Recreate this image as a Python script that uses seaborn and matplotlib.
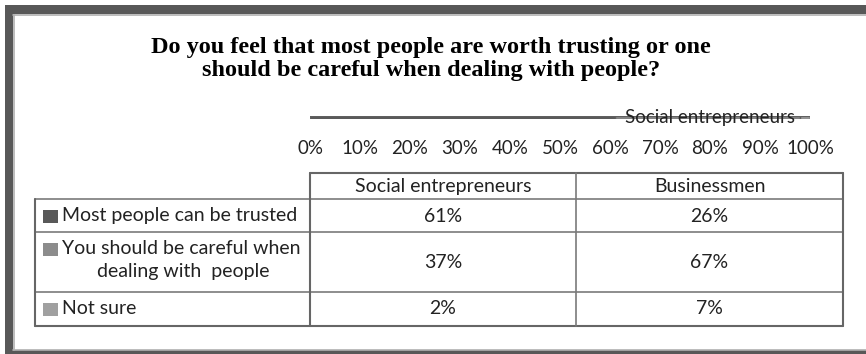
import matplotlib
matplotlib.use("Agg")
import matplotlib.pyplot as plt
from matplotlib.patches import Rectangle
from matplotlib.lines import Line2D
import pandas as pd
import seaborn as sns

# Survey answers and shares per group
answers = ["Most people can be trusted",
           "You should be careful when dealing with  people",
           "Not sure"]
groups = ["Social entrepreneurs", "Businessmen"]
social_entrepreneurs = [61, 37, 2]
businessmen = [26, 67, 7]
ticks = [0, 10, 20, 30, 40, 50, 60, 70, 80, 90, 100]
tick_labels = [f"{t}%" for t in ticks]
title = ("Do you feel that most people are worth trusting or one\n"
         "should be careful when dealing with people?")

colors = ["#595959", "#8c8c8c", "#a0a0a0"]

W, H = 866, 354
sns.set_theme(style="white")
plt.rcParams["font.family"] = ["Lato", "DejaVu Sans"]

fig = plt.figure(figsize=(W / 100, H / 100), dpi=100)
fig.patch.set_facecolor("white")


def fx(px):
    return px / W


def fy(py):
    return 1 - py / H


# Outer chart frame (dark band with light inner line)
frame_dark = "#585858"
frame_light = "#b0b0b0"
fig.add_artist(Rectangle((fx(5), fy(14)), fx(W), 9 / H, transform=fig.transFigure,
                         facecolor=frame_dark, edgecolor="none"))
fig.add_artist(Rectangle((fx(5), fy(354)), 8 / W, 349 / H, transform=fig.transFigure,
                         facecolor=frame_dark, edgecolor="none"))
fig.add_artist(Rectangle((fx(5), fy(354)), fx(W), 4 / H, transform=fig.transFigure,
                         facecolor=frame_dark, edgecolor="none"))
fig.add_artist(Line2D([fx(13), fx(W)], [fy(14.5), fy(14.5)], transform=fig.transFigure,
                      color=frame_light, lw=1.2))
fig.add_artist(Line2D([fx(13.5), fx(13.5)], [fy(14.5), fy(349.5)], transform=fig.transFigure,
                      color=frame_light, lw=1.2))
fig.add_artist(Line2D([fx(13), fx(W)], [fy(349.5), fy(349.5)], transform=fig.transFigure,
                      color=frame_light, lw=1.2))

# Title
fig.text(fx(431), fy(59), title, ha="center", va="center", fontsize=17.5,
         fontweight="bold", family=["Liberation Serif"], linespacing=1.1,
         color="black")

# Squashed stacked bar plot area
ax = fig.add_axes([fx(310), fy(119), fx(500), 3 / H])
df = pd.DataFrame({"group": [groups[0]] * 3, "answer": answers,
                   "value": social_entrepreneurs})
cum = df["value"].cumsum()
for i in reversed(range(len(answers))):
    sns.barplot(x=[cum.iloc[i]], y=[groups[0]], ax=ax, color=colors[i],
                orient="h", width=1.0, saturation=1, edgecolor="#606060",
                linewidth=1.0)
ax.set_xlim(0, 100)
ax.set_ylim(0.5, -0.5)
ax.set_xticks(ticks)
ax.set_xticklabels(tick_labels)
ax.tick_params(axis="x", length=0, pad=15, labelsize=13.5, labelcolor="#222222")
ax.set_yticks([])
ax.set_xlabel("")
ax.set_ylabel("")
for s in ax.spines.values():
    s.set_visible(False)
ax.text(0.8, 0.5, groups[0], transform=ax.transAxes, ha="center", va="center",
        fontsize=13.5, color="#222222")

# Data table
x_left, x_lab, x_mid, x_right = 35, 310, 576, 843
y_head, y_r1, y_r2, y_r3, y_bot = 173, 199, 232, 292, 326
grid = "#7a7a7a"
edge = "#666666"


def hline(y, x0, x1, c=grid, lw=1.2):
    fig.add_artist(Line2D([fx(x0), fx(x1)], [fy(y), fy(y)],
                          transform=fig.transFigure, color=c, lw=lw))


def vline(x, y0, y1, c=grid, lw=1.2):
    fig.add_artist(Line2D([fx(x), fx(x)], [fy(y0), fy(y1)],
                          transform=fig.transFigure, color=c, lw=lw))


hline(y_head, x_lab, x_right, edge, 1.5)
for y in (y_r1, y_r2, y_r3):
    hline(y, x_left, x_right)
hline(y_bot, x_left, x_right, edge, 1.5)
vline(x_left, y_r1, y_bot, edge, 1.5)
vline(x_lab, y_head, y_bot, edge, 1.5)
vline(x_mid, y_head, y_bot)
vline(x_right, y_head, y_bot, edge, 1.5)

fs = 14
tc = "#222222"
col_centers = [(x_lab + x_mid) / 2, (x_mid + x_right) / 2]
for cx, g in zip(col_centers, groups):
    fig.text(fx(cx), fy(186), g, ha="center", va="center", fontsize=fs, color=tc)

row_centers = [216, 262, 309]
for cy, a, b in zip(row_centers, social_entrepreneurs, businessmen):
    fig.text(fx(col_centers[0]), fy(cy), f"{a}%", ha="center", va="center",
             fontsize=fs, color=tc)
    fig.text(fx(col_centers[1]), fy(cy), f"{b}%", ha="center", va="center",
             fontsize=fs, color=tc)

# Row headers with legend swatches
label_rows = [(216, answers[0], None), (249, "You should be careful when", 271),
              (309, answers[2], None)]
for (cy, txt, cy2), c in zip(label_rows, colors):
    fig.add_artist(Rectangle((fx(43), fy(cy + 7)), 15 / W, 13 / H,
                             transform=fig.transFigure, facecolor=c, edgecolor="none"))
    fig.text(fx(62), fy(cy), txt, ha="left", va="center", fontsize=fs, color=tc)
    if cy2 is not None:
        fig.text(fx(183), fy(cy2), "dealing with  people", ha="center", va="center",
                 fontsize=fs, color=tc)

fig.savefig("out.png", dpi=100, facecolor="white")
